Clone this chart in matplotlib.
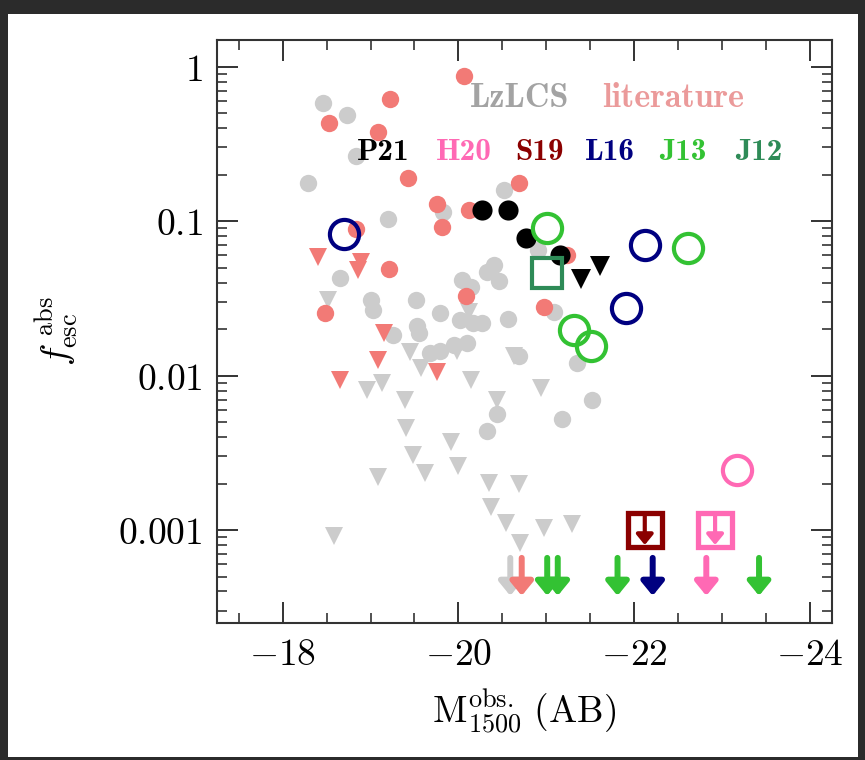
import matplotlib
matplotlib.use("Agg")
import matplotlib.pyplot as plt
from matplotlib.patches import Rectangle
from matplotlib.ticker import MultipleLocator, LogLocator, NullFormatter

plt.rcParams['mathtext.fontset'] = 'cm'
plt.rcParams['font.family'] = ['DejaVu Serif']

# ---------------- data ----------------
# LzLCS detections (grey circles)
lz_x = [-18.46, -18.73, -18.84, -18.29, -20.52, -19.83, -19.20, -20.90, -18.65, -19.00,
        -19.03, -19.52, -19.79, -20.04, -20.14, -20.40, -20.46, -20.33, -20.02, -20.17,
        -20.27, -20.56, -21.09, -19.26, -19.53, -19.55, -19.68, -19.79, -19.95, -20.10,
        -20.69, -21.35, -21.52, -21.18, -20.44, -20.33]
lz_y = [0.58, 0.487, 0.264, 0.176, 0.159, 0.115, 0.104, 0.065, 0.0427, 0.031,
        0.0265, 0.031, 0.0256, 0.0417, 0.0377, 0.052, 0.0408, 0.047, 0.023, 0.022,
        0.0218, 0.0232, 0.026, 0.0183, 0.0208, 0.0188, 0.014, 0.0145, 0.0158, 0.0162,
        0.0133, 0.0121, 0.007, 0.0052, 0.0056, 0.0044]
# LzLCS upper limits (grey triangles)
lzu_x = [-18.52, -20.12, -19.45, -19.98, -19.57, -18.96, -19.13, -20.14, -19.39, -20.44,
         -20.63, -20.94, -19.40, -19.91, -19.48, -19.62, -20.00, -19.08, -20.35, -20.69,
         -20.37, -20.54, -20.70, -18.58, -20.97, -21.29]
lzu_y = [0.031, 0.026, 0.0143, 0.0145, 0.0112, 0.0081, 0.0089, 0.0094, 0.007, 0.007,
         0.0133, 0.0083, 0.00457, 0.00374, 0.00307, 0.00233, 0.00258, 0.00222, 0.00201, 0.0020,
         0.00142, 0.00111, 0.00082, 0.00091, 0.00103, 0.0011]
lz_arrow_x = [-20.59]

# literature (red)
lit_x = [-20.06, -19.22, -18.53, -19.09, -19.43, -20.69, -19.76, -20.12, -19.81, -18.84,
         -21.24, -20.97, -19.21, -18.48, -20.09]
lit_y = [0.875, 0.618, 0.43, 0.38, 0.19, 0.176, 0.129, 0.118, 0.091, 0.089,
         0.06, 0.0277, 0.0489, 0.0253, 0.0328]
litu_x = [-18.40, -18.89, -18.86, -19.15, -19.09, -19.76, -18.65]
litu_y = [0.059, 0.0547, 0.048, 0.0188, 0.0126, 0.0106, 0.0094]
lit_arrow_x = [-20.72]

# P21 (black)
p21_x = [-20.27, -20.56, -20.77, -21.15]
p21_y = [0.118, 0.118, 0.078, 0.060]
p21u_x = [-21.39, -21.61]
p21u_y = [0.042, 0.051]

# L16 (navy)
l16_x = [-18.70, -22.12, -21.91]
l16_y = [0.083, 0.070, 0.0273]
l16_arrow_x = [-22.21]

# J13 (green)
j13_x = [-21.01, -22.61, -21.31, -21.51]
j13_y = [0.090, 0.0668, 0.0198, 0.0156]
j13_arrow_x = [-21.01, -21.13, -21.81, -23.42]

# J12 (sea green)
j12_x = [-21.01]
j12_y = [0.046]

# S19 (dark red) upper limit square
s19_x = [-22.12]
s19_y = [0.001]

# H20 (pink)
h20_x = [-23.17]
h20_y = [0.00245]
h20u_x = [-22.92]
h20u_y = [0.001]
h20_arrow_x = [-22.82]

arrow_top = 6.6e-4
arrow_bot = 3.75e-4

xticks = [-18, -20, -22, -24]
xticklabels = [r'$-18$', r'$-20$', r'$-22$', r'$-24$']
yticks = [1, 0.1, 0.01, 0.001]
yticklabels = [r'$1$', r'$0.1$', r'$0.01$', r'$0.001$']

c_grey = '#cccccc'
c_red = '#f27a76'
c_navy = '#000080'
c_lime = '#33c233'
c_sea = '#2e8b57'
c_dred = '#8b0000'
c_pink = '#ff69b4'

# ---------------- figure ----------------
W, H = 865, 760
fig = plt.figure(figsize=(W / 100, H / 100), dpi=100)
fig.patch.set_facecolor('#2b2b2b')
fig.add_artist(Rectangle((8 / W, 3 / H), (858 - 8) / W, (746 - 3) / H,
                         transform=fig.transFigure, facecolor='white', edgecolor='none', zorder=0))

l, r, t, b = 216.7, 832, 40, 623
ax = fig.add_axes([l / W, (H - b) / H, (r - l) / W, (b - t) / H])
ax.set_yscale('log')
ax.set_xlim(-17.25, -24.25)
ax.set_ylim(2.5e-4, 1.49)

# grey
ax.plot(lzu_x, lzu_y, 'v', color=c_grey, ms=13, mew=0, zorder=2)
ax.plot(lz_x, lz_y, 'o', color=c_grey, ms=12.5, mew=0, zorder=2)
# red
ax.plot(litu_x, litu_y, 'v', color=c_red, ms=13, mew=0, zorder=3)
ax.plot(lit_x, lit_y, 'o', color=c_red, ms=12.5, mew=0, zorder=3)
# P21
ax.plot(p21_x, p21_y, 'o', color='black', ms=14.5, mew=0, zorder=4)
ax.plot(p21u_x, p21u_y, 'v', color='black', ms=15, mew=0, zorder=4)
# open circles
ax.plot(l16_x, l16_y, 'o', mfc='none', mec=c_navy, ms=21, mew=3, zorder=5)
ax.plot(j13_x, j13_y, 'o', mfc='none', mec=c_lime, ms=21, mew=3, zorder=5)
ax.plot(h20_x, h20_y, 'o', mfc='none', mec=c_pink, ms=21, mew=3, zorder=5)
# squares
ax.plot(j12_x, j12_y, 's', mfc='none', mec=c_sea, ms=21.5, mew=3, zorder=5)
ax.plot(s19_x, s19_y, 's', mfc='none', mec=c_dred, ms=24, mew=3.8, zorder=5)
ax.plot(h20u_x, h20u_y, 's', mfc='none', mec=c_pink, ms=24, mew=3.8, zorder=5)


def down_arrow(x, ytop, ybot, color, lw=4.3, ms=15, z=6):
    ax.annotate('', xy=(x, ybot), xytext=(x, ytop), xycoords='data', textcoords='data',
                arrowprops=dict(arrowstyle='-|>,head_length=0.55,head_width=0.45', color=color,
                                lw=lw, mutation_scale=ms, shrinkA=0, shrinkB=0), zorder=z)


for xx in lz_arrow_x:
    down_arrow(xx, arrow_top, arrow_bot, c_grey, z=2)
for xx in lit_arrow_x:
    down_arrow(xx, arrow_top, arrow_bot, c_red, z=3)
for xx in j13_arrow_x:
    down_arrow(xx, arrow_top, arrow_bot, c_lime)
for xx in l16_arrow_x:
    down_arrow(xx, arrow_top, arrow_bot, c_navy)
for xx in h20_arrow_x:
    down_arrow(xx, arrow_top, arrow_bot, c_pink)
for xx, yy in zip(s19_x, s19_y):
    down_arrow(xx, yy * 1.26, yy * 0.80, c_dred, lw=3, ms=11)
for xx, yy in zip(h20u_x, h20u_y):
    down_arrow(xx, yy * 1.26, yy * 0.80, c_pink, lw=3, ms=11)

# ticks
ax.set_xticks(xticks)
ax.set_xticklabels(xticklabels)
ax.xaxis.set_minor_locator(MultipleLocator(0.5))
ax.set_yticks(yticks)
ax.set_yticklabels(yticklabels)
ax.yaxis.set_minor_locator(LogLocator(base=10, subs=range(2, 10), numticks=20))
ax.yaxis.set_minor_formatter(NullFormatter())
ax.tick_params(which='both', direction='in', top=True, right=True, labelsize=27, colors='black')
ax.tick_params(which='major', length=15, width=1.4, pad=10, color='#333333')
ax.tick_params(which='minor', length=7.5, width=1.2, color='#333333')
for s in ax.spines.values():
    s.set_linewidth(1.5)
    s.set_color('#333333')

ax.set_xlabel(r'$\rm M_{1500}^{obs.}\ (AB)$', fontsize=27, labelpad=11)
ax.set_ylabel(r'$f_{\rm esc}^{\ \rm abs}$', fontsize=27, labelpad=28)

# legend-like labels
tr = ax.transAxes
row1 = 0.885
row2 = 0.794
bold = dict(family='cmb10', ha='center', va='baseline', transform=tr, zorder=10)
ax.text(0.493, row1, 'LzLCS', color='#a3a3a3', fontsize=24.5, **bold)
ax.text(0.742, row1, 'literature', color='#eb9a9a', fontsize=24.5, **bold)
labels2 = ['P21', 'H20', 'S19', 'L16', 'J13', 'J12']
colors2 = ['black', c_pink, c_dred, c_navy, c_lime, c_sea]
xs2 = [0.270, 0.402, 0.525, 0.639, 0.758, 0.881]
for lab, c, xx in zip(labels2, colors2, xs2):
    ax.text(xx, row2, lab, color=c, fontsize=22.5, **bold)

fig.savefig('out.png', dpi=100, facecolor=fig.get_facecolor())
